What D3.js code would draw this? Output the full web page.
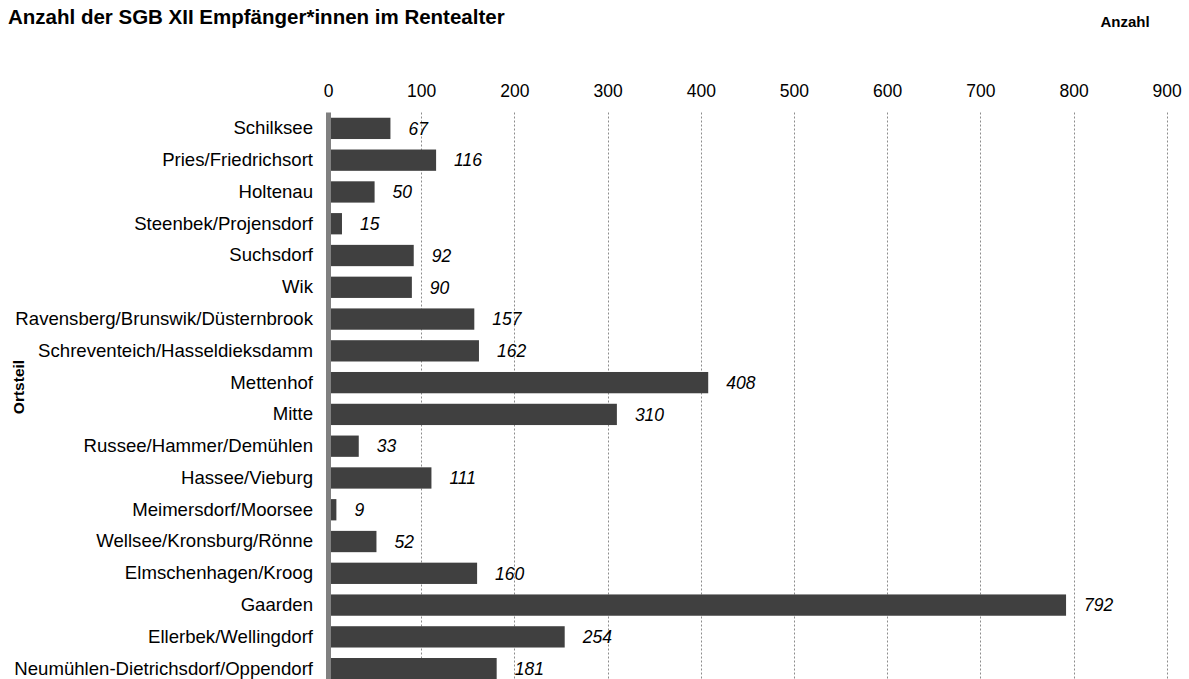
<!DOCTYPE html>
<html>
<head>
<meta charset="utf-8">
<script src="https://cdn.jsdelivr.net/npm/d3@7"></script>
<style>
  html, body { margin: 0; padding: 0; background: #fff; }
  svg { display: block; font-family: "Liberation Sans", Arial, sans-serif; }
</style>
</head>
<body>
<svg id="chart" width="1189" height="679"></svg>
<script>
// Ortsteile (districts) and number of SGB XII recipients of pension age
const districts = [
  "Schilksee",
  "Pries/Friedrichsort",
  "Holtenau",
  "Steenbek/Projensdorf",
  "Suchsdorf",
  "Wik",
  "Ravensberg/Brunswik/Düsternbrook",
  "Schreventeich/Hasseldieksdamm",
  "Mettenhof",
  "Mitte",
  "Russee/Hammer/Demühlen",
  "Hassee/Vieburg",
  "Meimersdorf/Moorsee",
  "Wellsee/Kronsburg/Rönne",
  "Elmschenhagen/Kroog",
  "Gaarden",
  "Ellerbek/Wellingdorf",
  "Neumühlen-Dietrichsdorf/Oppendorf"
];
const counts = [67, 116, 50, 15, 92, 90, 157, 162, 408, 310, 33, 111, 9, 52, 160, 792, 254, 181];
const xTicks = [0, 100, 200, 300, 400, 500, 600, 700, 800, 900];

const titleText = "Anzahl der SGB XII Empfänger*innen im Rentealter";
const xTitle = "Anzahl";
const yTitle = "Ortsteil";

const svg = d3.select("#chart");

const plotLeft = 328, plotRight = 1166.7;
const plotTop = 112.5;

const x = d3.scaleLinear().domain([0, 900]).range([plotLeft, plotRight]);
const y = d3.scaleBand()
  .domain(districts)
  .range([plotTop, plotTop + 18 * 31.78])
  .paddingInner(0.33)
  .paddingOuter(0.165);

// Title
svg.append("text")
  .attr("x", 8).attr("y", 24)
  .attr("font-size", 20.5).attr("font-weight", "bold")
  .attr("fill", "#000")
  .text(titleText);

// Value axis title (top right)
svg.append("text")
  .attr("x", 1125).attr("y", 27)
  .attr("text-anchor", "middle")
  .attr("font-size", 15).attr("font-weight", "bold")
  .text(xTitle);

// Category axis title (rotated)
svg.append("text")
  .attr("transform", "translate(24,387) rotate(-90)")
  .attr("text-anchor", "middle")
  .attr("font-size", 15.5).attr("font-weight", "bold")
  .text(yTitle);

// Dashed vertical gridlines
svg.append("g")
  .selectAll("line")
  .data(xTicks.filter(d => d > 0))
  .join("line")
  .attr("x1", d => Math.round(x(d)) + 0.5)
  .attr("x2", d => Math.round(x(d)) + 0.5)
  .attr("y1", plotTop)
  .attr("y2", 679)
  .attr("stroke", "#8c8c8c")
  .attr("stroke-width", 1)
  .attr("stroke-dasharray", "2,2");

// Top value axis (labels only)
const xAxis = d3.axisTop(x).tickValues(xTicks).tickSize(0).tickPadding(0).tickFormat(d3.format("d"));
const gx = svg.append("g").attr("transform", "translate(0,97)").call(xAxis);
gx.select(".domain").remove();
gx.selectAll("text")
  .attr("font-size", 17.5)
  .attr("font-family", "'Liberation Sans', Arial, sans-serif")
  .attr("fill", "#000")
  .attr("dy", 0);

// Bars
svg.append("g")
  .selectAll("rect")
  .data(districts)
  .join("rect")
  .attr("x", x(0))
  .attr("y", d => y(d))
  .attr("width", (d, i) => x(counts[i]) - x(0))
  .attr("height", y.bandwidth())
  .attr("fill", "#404040");

// Value labels
svg.append("g")
  .selectAll("text")
  .data(districts)
  .join("text")
  .attr("x", (d, i) => x(counts[i]) + 18)
  .attr("y", d => y(d) + y.bandwidth() / 2)
  .attr("dy", "0.36em")
  .attr("font-size", 17.5)
  .attr("font-style", "italic")
  .attr("fill", "#000")
  .text((d, i) => counts[i]);

// Category axis (labels + thick grey baseline)
const yAxis = d3.axisLeft(y).tickSize(0).tickPadding(15);
const gy = svg.append("g").attr("transform", `translate(${plotLeft},0)`).call(yAxis);
gy.select(".domain").remove();
gy.selectAll("text")
  .attr("font-size", 18.6)
  .attr("font-family", "'Liberation Sans', Arial, sans-serif")
  .attr("fill", "#000");

svg.append("rect")
  .attr("x", 326).attr("y", plotTop)
  .attr("width", 5).attr("height", 679 - plotTop)
  .attr("fill", "#808080");
</script>
</body>
</html>
